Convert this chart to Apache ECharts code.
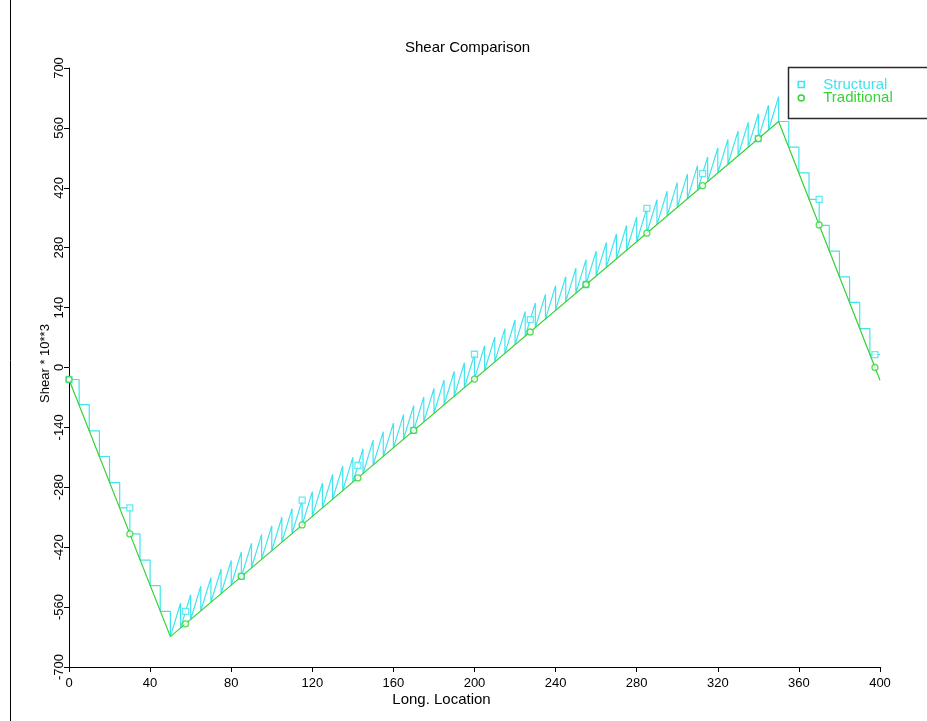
<!DOCTYPE html>
<html>
<head>
<meta charset="utf-8">
<title>Shear Comparison</title>
<script src="https://cdn.jsdelivr.net/npm/echarts/dist/echarts.min.js"></script>
<style>
  html, body { margin: 0; padding: 0; background: #ffffff; }
  #chart { width: 927px; height: 721px; }
</style>
</head>
<body>
<div id="chart"></div>
<script>
// Station locations along the girder (5-unit segments, 0 to 400)
const stationX = [
  0, 5, 10, 15, 20, 25, 30, 35, 40, 45,
  50, 55, 60, 65, 70, 75, 80, 85, 90, 95,
  100, 105, 110, 115, 120, 125, 130, 135, 140, 145,
  150, 155, 160, 165, 170, 175, 180, 185, 190, 195,
  200, 205, 210, 215, 220, 225, 230, 235, 240, 245,
  250, 255, 260, 265, 270, 275, 280, 285, 290, 295,
  300, 305, 310, 315, 320, 325, 330, 335, 340, 345,
  350, 355, 360, 365, 370, 375, 380, 385, 390, 395,
  400
];

// Structural shear at the start of each segment (x10^3)
const structuralStart = [
  -28, -87, -148, -208, -269, -328, -389, -450, -510, -570,
  -629, -609, -589, -569, -549, -529, -509, -489, -468, -448,
  -428, -408, -388, -368, -348, -328, -308, -288, -268, -248,
  -228, -208, -188, -167, -147, -127, -107, -87, -67, -47,
  -27, -7, 13, 33, 53, 73, 93, 113, 134, 154,
  174, 194, 214, 234, 254, 274, 294, 314, 334, 354,
  374, 394, 414, 435, 455, 475, 495, 515, 535, 555,
  575, 515, 455, 393, 332, 272, 212, 152, 91, 30
];

// Structural shear at the end of each segment (x10^3)
const structuralEnd = [
  -28, -87, -148, -208, -269, -328, -389, -450, -510, -570,
  -551, -531, -511, -491, -471, -451, -431, -411, -390, -370,
  -350, -330, -310, -290, -270, -250, -230, -210, -190, -170,
  -150, -130, -110, -89, -69, -49, -29, -9, 11, 31,
  51, 71, 91, 111, 131, 151, 171, 191, 212, 232,
  252, 272, 292, 312, 332, 352, 372, 392, 412, 432,
  452, 472, 492, 513, 533, 553, 573, 593, 613, 633,
  575, 515, 455, 393, 332, 272, 212, 152, 91, 30
];

// Traditional shear: straight runs between the break points
const traditionalX = [0, 50, 350, 400];
const traditionalY = [-28, -629, 575, -30];

// Marked points on both curves
const markerX = [0, 30, 57.5, 85, 115, 142.5, 170, 200, 227.5, 255, 285, 312.5, 340, 370, 397.5];
const structuralMarkerY = [-28, -328, -570, -488, -310, -229, -147, 31, 112, 194, 372, 453, 535, 393, 30];
const traditionalMarkerY = [-28, -389, -599, -488, -368, -258, -147, -27, 83, 194, 314, 425, 535, 333, 0];

// Axis ticks
const xTicks = { min: 0, max: 400, step: 40 };
const yTicks = { min: -700, max: 700, step: 140 };

const CYAN = '#40e4f0';
const GREEN = '#36d236';
const FONT = '"Liberation Sans", Arial, sans-serif';
const SQUARE = 'path://M0 0H10V10H0Z';

const structuralLine = [];
for (let k = 0; k < structuralStart.length; k++) {
  structuralLine.push([stationX[k], structuralStart[k]]);
  structuralLine.push([stationX[k + 1], structuralEnd[k]]);
}
const traditionalLine = traditionalX.map((x, i) => [x, traditionalY[i]]);
const structuralMarks = markerX.map((x, i) => [x, structuralMarkerY[i]]);
const traditionalMarks = markerX.map((x, i) => [x, traditionalMarkerY[i]]);

const chart = echarts.init(document.getElementById('chart'), null, { renderer: 'canvas' });

chart.setOption({
  animation: false,
  backgroundColor: '#ffffff',
  title: {
    text: 'Shear Comparison',
    left: 405,
    top: 40,
    padding: 0,
    textStyle: { fontFamily: FONT, fontSize: 15, fontWeight: 'normal', color: '#000' }
  },
  grid: {
    left: 69, right: 47, top: 68, bottom: 54,
    containLabel: false,
    outerBoundsMode: 'none'
  },
  legend: {
    orient: 'vertical',
    left: 797.5,
    top: 77,
    itemWidth: 34,
    itemHeight: 6,
    itemGap: -1.5,
    selectedMode: false,
    padding: 0,
    textStyle: { fontFamily: FONT, fontSize: 15, lineHeight: 12.5 },
    data: [
      { name: 'Structural', icon: SQUARE,
        itemStyle: { color: '#ffffff', borderColor: CYAN, borderWidth: 1.5 },
        textStyle: { color: CYAN } },
      { name: 'Traditional', icon: 'circle',
        itemStyle: { color: '#ffffff', borderColor: GREEN, borderWidth: 1.5 },
        textStyle: { color: GREEN } }
    ]
  },
  graphic: [
    {
      type: 'rect', z: 1,
      shape: { x: 788.5, y: 67.5, width: 200, height: 51 },
      style: { fill: '#ffffff', stroke: '#2a2a2a', lineWidth: 1.5 }
    },
    {
      type: 'line', z: 1,
      shape: { x1: 10.5, y1: 0, x2: 10.5, y2: 721 },
      style: { stroke: '#000000', lineWidth: 1 }
    }
  ],
  xAxis: {
    type: 'value',
    min: xTicks.min, max: xTicks.max, interval: xTicks.step,
    name: 'Long. Location',
    nameLocation: 'middle',
    nameGap: 25,
    nameMoveOverlap: false,
    nameTextStyle: { fontFamily: FONT, fontSize: 15, color: '#000', padding: [0, 66, 0, 0] },
    axisLine: { show: true, onZero: false, lineStyle: { color: '#000', width: 1 } },
    axisTick: { show: true, length: 5, lineStyle: { color: '#000', width: 1 } },
    axisLabel: { fontFamily: FONT, fontSize: 13, color: '#000', margin: 10 },
    splitLine: { show: false }
  },
  yAxis: {
    type: 'value',
    min: yTicks.min, max: yTicks.max, interval: yTicks.step,
    name: 'Shear * 10**3',
    nameLocation: 'middle',
    nameGap: 17,
    nameMoveOverlap: false,
    nameTextStyle: { fontFamily: FONT, fontSize: 13, color: '#000', padding: [0, 0, 0, 8] },
    axisLine: { show: true, onZero: false, lineStyle: { color: '#000', width: 1 } },
    axisTick: { show: true, length: 5, lineStyle: { color: '#000', width: 1 } },
    axisLabel: { fontFamily: FONT, fontSize: 13, color: '#000', margin: 3, rotate: 90 },
    splitLine: { show: false }
  },
  series: [
    {
      name: 'Structural',
      type: 'line',
      data: structuralLine,
      showSymbol: false,
      lineStyle: { color: CYAN, width: 1.2 },
      itemStyle: { color: CYAN },
      z: 2
    },
    {
      name: 'Structural',
      type: 'scatter',
      data: structuralMarks,
      symbol: 'rect',
      symbolSize: 6,
      itemStyle: { color: '#ffffff', borderColor: CYAN, borderWidth: 1.3 },
      z: 3
    },
    {
      name: 'Traditional',
      type: 'line',
      data: traditionalLine,
      showSymbol: false,
      lineStyle: { color: GREEN, width: 1.2 },
      itemStyle: { color: GREEN },
      z: 4
    },
    {
      name: 'Traditional',
      type: 'scatter',
      data: traditionalMarks,
      symbol: 'circle',
      symbolSize: 6,
      itemStyle: { color: '#ffffff', borderColor: GREEN, borderWidth: 1.3 },
      z: 5
    }
  ]
});
</script>
</body>
</html>
